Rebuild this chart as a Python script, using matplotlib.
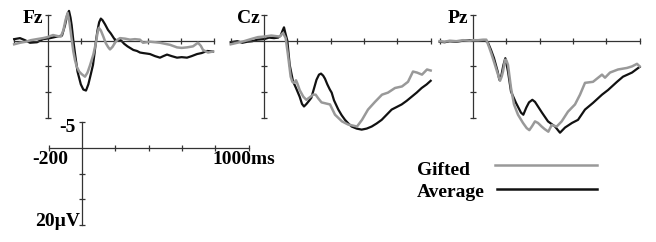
import matplotlib
matplotlib.use('Agg')
import matplotlib.pyplot as plt
from matplotlib.lines import Line2D

plt.rcParams['font.family'] = ['Liberation Serif', 'DejaVu Serif']
plt.rcParams['font.weight'] = 'bold'

# ---- data (ms, µV; negative plotted up) ----
fz_avg_t = [-200, -165, -135, -105, -63, -27, 15, 57, 87, 105, 118, 129, 138, 145, 155, 165, 180, 200,
            215, 231, 245, 260, 273, 282, 291, 300, 310, 320, 330, 345, 363, 380, 400, 415, 428, 440,
            460, 480, 495, 515, 537, 555, 573, 595, 615, 645, 675, 695, 717, 745, 777, 805, 837, 865,
            897, 925, 957, 993]
fz_avg = [-0.3, -0.5, -0.1, 0.4, 0.3, -0.3, -0.5, -0.8, -1.0, -3.0, -5.0, -5.8, -4.5, -3.0, 0.0, 2.5, 6.0,
          8.5, 9.5, 9.7, 8.5, 6.5, 4.7, 2.5, 0.0, -2.0, -3.6, -4.3, -4.0, -3.2, -2.1, -1.4, -0.4, 0.0,
          -0.2, -0.1, 0.6, 1.1, 1.4, 1.8, 2.0, 2.3, 2.4, 2.5, 2.6, 3.0, 3.3, 3.0, 2.7, 3.0, 3.3, 3.2, 3.3,
          3.0, 2.6, 2.4, 2.0, 2.1]

fz_gift_t = [-200, -165, -130, -100, -65, -27, 0, 33, 60, 80, 95, 108, 121, 132, 143, 155, 165, 175, 190,
             205, 225, 240, 255, 275, 290, 300, 308, 320, 335, 350, 365, 375, 390, 405, 420, 435, 465,
             495, 525, 555, 573, 595, 615, 645, 675, 705, 735, 777, 805, 837, 873, 903, 920, 933, 963, 993]
fz_gift = [0.7, 0.4, 0.2, -0.1, -0.3, -0.5, -0.7, -1.1, -0.9, -0.8, -2.0, -4.0, -5.4, -3.5, -0.8, 2.1, 3.8,
           5.0, 6.0, 6.5, 7.0, 6.2, 4.8, 2.7, 0.5, -1.5, -2.5, -2.0, -0.8, 0.5, 1.3, 1.7, 1.2, 0.4, -0.2,
           -0.5, -0.4, -0.2, -0.3, -0.2, 0.4, 0.3, 0.2, 0.3, 0.4, 0.6, 0.8, 1.3, 1.4, 1.3, 1.1, 0.4, 1.0,
           1.8, 2.3, 2.1]

cz_avg_t = [-200, -160, -130, -100, -70, -40, 0, 30, 60, 85, 100, 112, 120, 128, 140, 154, 174, 192, 214,
            228, 240, 255, 270, 284, 300, 315, 330, 342, 355, 366, 380, 395, 406, 420, 446, 466, 486, 506,
            526, 556, 586, 616, 646, 676, 706, 736, 766, 796, 826, 856, 886, 916, 946, 976, 1000]
cz_avg = [0.3, 0.1, 0.4, 0.2, 0.1, -0.2, -0.3, -0.6, -0.5, -0.6, -1.0, -2.0, -2.6, -1.5, 0.0, 4.7, 7.9, 9.2,
          10.9, 12.3, 12.8, 12.3, 11.7, 11.1, 9.3, 7.6, 6.6, 6.4, 6.8, 7.4, 8.5, 9.5, 10.1, 11.6, 13.4,
          14.5, 15.4, 16.1, 16.7, 17.1, 17.3, 17.1, 16.7, 16.1, 15.4, 14.4, 13.4, 12.9, 12.4, 11.7, 10.9,
          10.1, 9.2, 8.5, 7.8]

cz_gift_t = [-200, -160, -120, -80, -36, 0, 44, 94, 114, 130, 144, 160, 170, 182, 192, 200, 214, 236, 254,
             275, 295, 310, 325, 345, 370, 396, 426, 468, 504, 558, 588, 624, 666, 708, 744, 786, 828, 864,
             894, 918, 948, 978, 1000]
cz_gift = [0.7, 0.4, 0.1, -0.3, -0.7, -0.8, -1.0, -0.8, -1.5, -0.5, 2.8, 7.0, 8.0, 8.2, 7.7, 8.3, 9.6,
           10.9, 11.5, 11.0, 10.5, 10.5, 11.2, 12.0, 12.2, 12.4, 14.4, 15.7, 16.3, 16.7, 15.4, 13.4, 11.9,
           10.5, 10.1, 9.2, 8.9, 8.0, 6.0, 6.2, 6.6, 5.6, 5.8]

pz_avg_t = [-200, -170, -140, -100, -60, -20, 0, 30, 60, 80, 90, 108, 126, 148, 158, 170, 182, 194, 210,
            228, 258, 288, 302, 320, 336, 356, 372, 390, 414, 450, 492, 522, 552, 594, 630, 672, 720, 774,
            810, 864, 900, 954, 1000]
pz_avg = [0.2, 0.3, 0.1, 0.2, 0.0, -0.1, -0.1, -0.1, -0.1, 0.1, 0.4, 1.8, 3.4, 6.0, 7.6, 6.8, 4.8, 3.4,
          6.0, 9.9, 12.1, 14.0, 14.4, 13.0, 12.0, 11.5, 11.9, 12.8, 14.0, 15.7, 16.7, 17.9, 16.9, 16.0,
          15.4, 13.4, 12.1, 10.5, 9.6, 8.0, 7.0, 6.2, 5.1]

pz_gift_t = [-200, -170, -140, -100, -60, -20, 0, 30, 60, 80, 96, 110, 126, 150, 162, 172, 180, 192, 200,
             210, 228, 246, 270, 300, 322, 338, 355, 372, 390, 412, 430, 452, 472, 502, 532, 570, 612, 642,
             672, 720, 774, 792, 822, 870, 924, 954, 984, 1000]
pz_gift = [0.1, 0.2, 0.0, 0.1, -0.1, 0.0, -0.1, -0.1, -0.2, -0.2, 1.2, 2.5, 4.1, 6.6, 7.8, 7.0, 6.0, 3.7,
           3.8, 4.7, 9.2, 12.4, 14.4, 16.0, 17.0, 17.4, 16.6, 15.7, 16.0, 16.7, 17.2, 17.7, 16.4, 16.7,
           15.7, 13.8, 12.4, 10.5, 8.2, 8.0, 6.6, 7.2, 6.2, 5.6, 5.3, 5.0, 4.5, 5.0]

panels = [('Fz', fz_gift_t, fz_gift, fz_avg_t, fz_avg),
          ('Cz', cz_gift_t, cz_gift, cz_avg_t, cz_avg),
          ('Pz', pz_gift_t, pz_gift, pz_avg_t, pz_avg)]

x_ticks = [-200, 200, 400, 600, 800, 1000]
y_ticks = [-5, 5, 10, 15]

W, H = 656, 242
axis_col = '#333333'
gift_col = '#999999'
avg_col = '#111111'
fs = 14


def erp_axes(fig, xa, ya):
    # xa, ya: pixel position of the origin (0 ms, 0 µV)
    px_per_uv = 25.7 / 5
    left = (xa - 200 / 6) / W
    bottom = 1 - (ya + 15 * px_per_uv) / H
    ax = fig.add_axes([left, bottom, 200 / W, 20 * px_per_uv / H])
    ax.set_xlim(-200, 1000)
    ax.set_ylim(15, -5)
    ax.patch.set_visible(False)
    for s in ['top', 'right']:
        ax.spines[s].set_visible(False)
    ax.spines['left'].set_position(('data', 0))
    ax.spines['bottom'].set_position(('data', 0))
    for s in ['left', 'bottom']:
        ax.spines[s].set_color(axis_col)
        ax.spines[s].set_linewidth(0.9)
    ax.set_xticks(x_ticks)
    ax.set_yticks(y_ticks)
    ax.tick_params(direction='inout', length=5, width=0.9, color=axis_col,
                   labelbottom=False, labelleft=False)
    return ax


fig = plt.figure(figsize=(W / 100, H / 100), dpi=100)

origins = [(47.5, 40.7), (264, 40.7), (473, 40.7)]
for (name, gt, gv, at, av), (xa, ya) in zip(panels, origins):
    ax = erp_axes(fig, xa, ya)
    ax.plot(gt, gv, color=gift_col, lw=1.8, clip_on=False, zorder=3)
    ax.plot(at, av, color=avg_col, lw=1.6, clip_on=False, zorder=2)
    ax.text(-28, -4.3, name, ha='right', va='center', fontsize=fs, fontweight='bold')

# scale bar
sax = erp_axes(fig, 82, 148)
sax.text(-36, -4.0, '-5', ha='right', va='center', fontsize=fs, fontweight='bold')
sax.text(-190, 0.6, '-200', ha='center', va='top', fontsize=fs, fontweight='bold')
sax.text(970, 0.6, '1000ms', ha='center', va='top', fontsize=fs, fontweight='bold')
sax.text(-10, 14.3, '20\u00b5V', ha='right', va='center', fontsize=fs, fontweight='bold')

# legend
fig.text(417 / W, 1 - 175 / H, 'Gifted', ha='left', va='baseline', fontsize=fs, fontweight='bold')
fig.text(417 / W, 1 - 197 / H, 'Average', ha='left', va='baseline', fontsize=fs, fontweight='bold')
fig.add_artist(Line2D([495 / W, 597 / W], [1 - 165 / H, 1 - 165 / H], color=gift_col, lw=1.8,
                      transform=fig.transFigure))
fig.add_artist(Line2D([497 / W, 597 / W], [1 - 189 / H, 1 - 189 / H], color=avg_col, lw=1.8,
                      transform=fig.transFigure))

fig.savefig('out.png', dpi=100, facecolor='white')
